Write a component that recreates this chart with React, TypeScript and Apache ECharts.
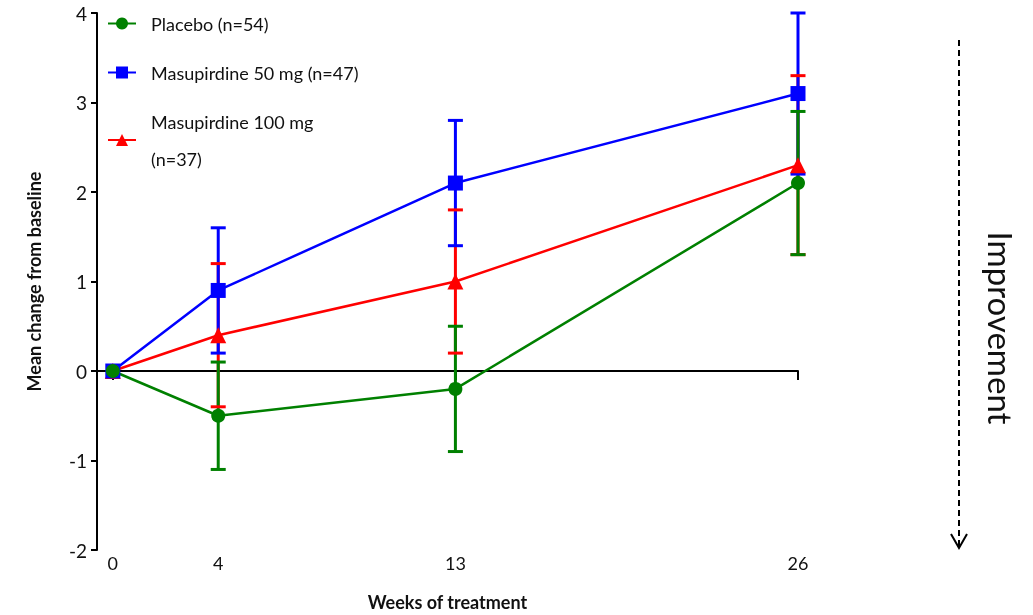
import React, { useEffect, useRef } from "react";
import * as echarts from "echarts";

const weeks = [0, 4, 13, 26];
const placeboMean = [0, -0.5, -0.2, 2.1];
const placeboErr = [0, 0.6, 0.7, 0.8];
const mg50Mean = [0, 0.9, 2.1, 3.1];
const mg50Err = [0, 0.7, 0.7, 0.9];
const mg100Mean = [0, 0.4, 1.0, 2.3];
const mg100Err = [0, 0.8, 0.8, 1.0];
const yTicks = [-2, -1, 0, 1, 2, 3, 4];

const NAMES = ["Placebo (n=54)", "Masupirdine 50 mg (n=47)", "Masupirdine 100 mg (n=37)"];
const COLORS = ["#008000", "#0000ff", "#ff0000"];
const FONT = "Lato, 'Open Sans', sans-serif";

export default function App() {
  const ref = useRef<HTMLDivElement>(null);
  useEffect(() => {
    const chart = echarts.init(ref.current!, null, { renderer: "svg" });
    const groups = [
      { mean: mg100Mean, err: mg100Err, color: COLORS[2], name: NAMES[2], symbol: "triangle", size: 16 },
      { mean: mg50Mean, err: mg50Err, color: COLORS[1], name: NAMES[1], symbol: "rect", size: 15 },
      { mean: placeboMean, err: placeboErr, color: COLORS[0], name: NAMES[0], symbol: "circle", size: 14 },
    ];
    const vData: any[] = [];
    const cData: any[] = [];
    groups.forEach((g, gi) => {
      weeks.forEach((w, i) => {
        if (g.err[i] > 0) {
          vData.push([w, g.mean[i] - g.err[i], g.mean[i] + g.err[i], gi]);
          cData.push([w, g.mean[i] - g.err[i], gi]);
          cData.push([w, g.mean[i] + g.err[i], gi]);
        }
      });
    });
    const option: any = {
      animation: false,
      grid: { left: 97, right: 235, top: 13, bottom: 65, outerBoundsMode: "none", containLabel: false },
      legend: {
        orient: "vertical",
        left: 102,
        top: 0,
        itemWidth: 28,
        itemHeight: 15,
        itemGap: 12,
        data: [NAMES[0], NAMES[1], NAMES[2]],
        formatter: (n: string) => (n === NAMES[2] ? "Masupirdine 100 mg\n(n=37)" : n),
        textStyle: { fontFamily: FONT, fontSize: 18, color: "#111", lineHeight: 37, padding: [0, 0, 0, 10] },
      },
      xAxis: [
        {
          type: "value",
          min: -0.6,
          max: 26,
          axisLine: { show: true, onZero: true, lineStyle: { color: "#000", width: 2 } },
          axisTick: { show: true, customValues: weeks, length: 9, lineStyle: { color: "#000", width: 2 } },
          axisLabel: { show: false },
          splitLine: { show: false },
        },
        {
          type: "value",
          min: -0.6,
          max: 26,
          position: "bottom",
          axisLine: { show: false, onZero: false },
          axisTick: { show: false },
          axisLabel: { show: true, customValues: weeks, margin: 4, fontFamily: FONT, fontSize: 18, color: "#111" },
          splitLine: { show: false },
          name: "Weeks of treatment",
          nameLocation: "middle",
          nameGap: 43,
          nameTextStyle: { fontFamily: FONT, fontSize: 18, fontWeight: "bold", color: "#111" },
        },
      ],
      yAxis: {
        type: "value",
        min: -2,
        max: 4,
        interval: 1,
        axisLine: { show: true, onZero: false, lineStyle: { color: "#000", width: 2 } },
        axisTick: { show: true, length: 6, lineStyle: { color: "#000", width: 2 } },
        axisLabel: { margin: 10, fontFamily: FONT, fontSize: 19, color: "#111", customValues: yTicks },
        splitLine: { show: false },
        name: "Mean change from baseline",
        nameLocation: "middle",
        nameGap: 54,
        nameTextStyle: { fontFamily: FONT, fontSize: 18, fontWeight: "bold", color: "#111" },
      },
      graphic: [
        {
          type: "line",
          shape: { x1: 959, y1: 40, x2: 959, y2: 546 },
          style: { stroke: "#000", lineWidth: 2, lineDash: [6, 4] },
        },
        {
          type: "polyline",
          shape: { points: [[951, 534], [959, 548], [967, 534]] },
          style: { stroke: "#000", lineWidth: 2, fill: "none" },
        },
        {
          type: "text",
          x: 1001,
          y: 328,
          rotation: -Math.PI / 2,
          style: {
            text: "Improvement",
            fontFamily: FONT,
            fontSize: 33,
            fill: "#111",
            align: "center",
            verticalAlign: "middle",
          },
        },
      ],
      series: [
        {
          type: "custom",
          z: 2,
          silent: true,
          data: vData,
          renderItem: (params: any, api: any) => {
            const p1 = api.coord([api.value(0), api.value(1)]);
            const p2 = api.coord([api.value(0), api.value(2)]);
            return {
              type: "line",
              shape: { x1: p1[0], y1: p1[1], x2: p2[0], y2: p2[1] },
              style: { stroke: groups[api.value(3)].color, lineWidth: 3 },
            };
          },
        },
        {
          type: "custom",
          z: 2,
          silent: true,
          data: cData,
          renderItem: (params: any, api: any) => {
            const p = api.coord([api.value(0), api.value(1)]);
            return {
              type: "line",
              shape: { x1: p[0] - 7.5, y1: p[1], x2: p[0] + 7.5, y2: p[1] },
              style: { stroke: groups[api.value(2)].color, lineWidth: 3 },
            };
          },
        },
        ...groups.map((g) => ({
          type: "line",
          name: g.name,
          z: 3,
          data: weeks.map((w, i) => [w, g.mean[i]]),
          symbol: g.symbol,
          symbolSize: g.size,
          lineStyle: { color: g.color, width: 2.5 },
          itemStyle: { color: g.color },
        })),
      ],
    };
    chart.setOption(option);
    return () => chart.dispose();
  }, []);
  return <div ref={ref} style={{ position: "fixed", left: 0, top: 0, width: 1033, height: 615 }} />;
}
